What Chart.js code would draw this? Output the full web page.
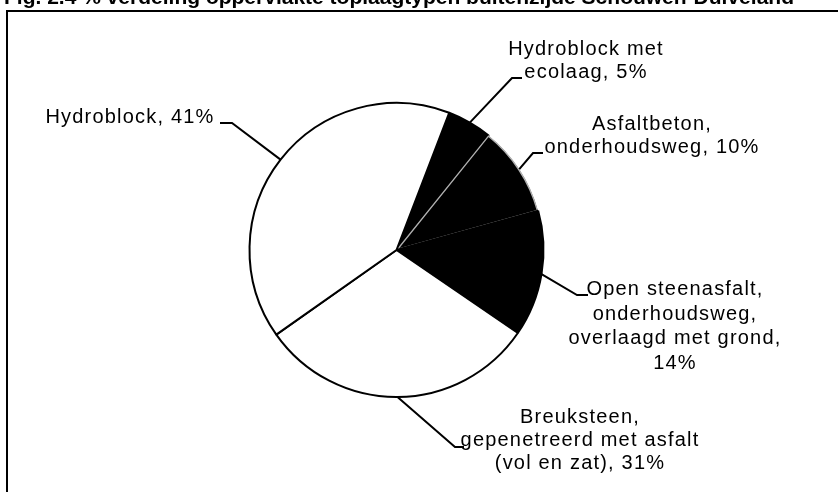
<!DOCTYPE html>
<html>
<head>
<meta charset="utf-8">
<script src="https://cdn.jsdelivr.net/npm/chart.js@4"></script>
<style>
  body { margin: 0; background: #fff; }
  #wrap { width: 838px; height: 492px; }
</style>
</head>
<body>
<div id="wrap"><canvas id="myChart" width="838" height="492"></canvas></div>
<script>
// data
const titleText = 'Fig. 2.4 % verdeling oppervlakte toplaagtypen buitenzijde Schouwen-Duiveland';
const categories = [
    ['Hydroblock met', 'ecolaag, 5%'],
    ['Asfaltbeton,', 'onderhoudsweg, 10%'],
    ['Open steenasfalt,', 'onderhoudsweg,', 'overlaagd met grond,', '14%'],
    ['Breuksteen,', 'gepenetreerd met asfalt', '(vol en zat), 31%'],
    ['Hydroblock, 41%']
];
const shares = [5, 10, 14, 31, 41];

// label placement (text centre, first baseline, line height, elbow, end of leader)
const labelPos = [
    { x: 586, y: 55, lh: 23, elbow: [512, 78], end: [522, 78] },
    { x: 652, y: 130, lh: 23, elbow: [533, 153], end: [543, 153] },
    { x: 675, y: 295, lh: 24.5, elbow: [577, 295], end: [588, 295] },
    { x: 580, y: 423, lh: 23, elbow: [455, 447], end: [464, 447] },
    { x: 130, y: 123, lh: 23, elbow: [232, 123], end: [220, 123] }
];

const fills = ['#000', '#000', '#000', '#fff', '#fff'];
const borders = ['#000', '#b0b0b0', '#000', '#000', '#000'];

const decorPlugin = {
    id: 'decor',
    afterDraw(chart) {
        const ctx = chart.ctx;
        ctx.save();
        // frame
        ctx.strokeStyle = '#000';
        ctx.lineWidth = 2;
        ctx.beginPath();
        ctx.moveTo(7, 492);
        ctx.lineTo(7, 11);
        ctx.lineTo(838, 11);
        ctx.stroke();
        // title, cut off at the top like the scan
        ctx.fillStyle = '#000';
        ctx.font = 'bold 21px "Liberation Sans", Arial, sans-serif';
        ctx.textAlign = 'left';
        ctx.textBaseline = 'alphabetic';
        ctx.fillText(titleText, 4, 4);

        // leader lines and labels
        const arcs = chart.getDatasetMeta(0).data;
        ctx.lineWidth = 2;
        ctx.font = '20px "Liberation Sans", Arial, sans-serif';
        ctx.letterSpacing = '1.2px';
        arcs.forEach((arc, i) => {
            const p = arc.getProps(['x', 'y', 'startAngle', 'endAngle', 'outerRadius'], true);
            const mid = (p.startAngle + p.endAngle) / 2;
            const ax = p.x + Math.cos(mid) * p.outerRadius;
            const ay = p.y + Math.sin(mid) * p.outerRadius;
            const lp = labelPos[i];
            ctx.beginPath();
            ctx.moveTo(ax, ay);
            ctx.lineTo(lp.elbow[0], lp.elbow[1]);
            ctx.lineTo(lp.end[0], lp.end[1]);
            ctx.stroke();
            ctx.textAlign = 'center';
            categories[i].forEach((line, k) => {
                ctx.fillText(line, lp.x, lp.y + k * lp.lh);
            });
        });
        ctx.restore();
    }
};

const ctx = document.getElementById('myChart').getContext('2d');
const myChart = new Chart(ctx, {
    type: 'pie',
    data: {
        labels: categories.map(c => c.join(' ')),
        datasets: [{
            data: shares,
            backgroundColor: fills,
            borderColor: borders,
            borderWidth: [2, 1, 2, 2, 2],
            borderAlign: ['center', 'inner', 'center', 'center', 'center']
        }]
    },
    options: {
        responsive: false,
        animation: false,
        rotation: 21,
        layout: {
            padding: { left: 100, right: 145, top: 102, bottom: 94 }
        },
        plugins: {
            legend: { display: false },
            tooltip: { enabled: false }
        }
    },
    plugins: [decorPlugin]
});
</script>
</body>
</html>
